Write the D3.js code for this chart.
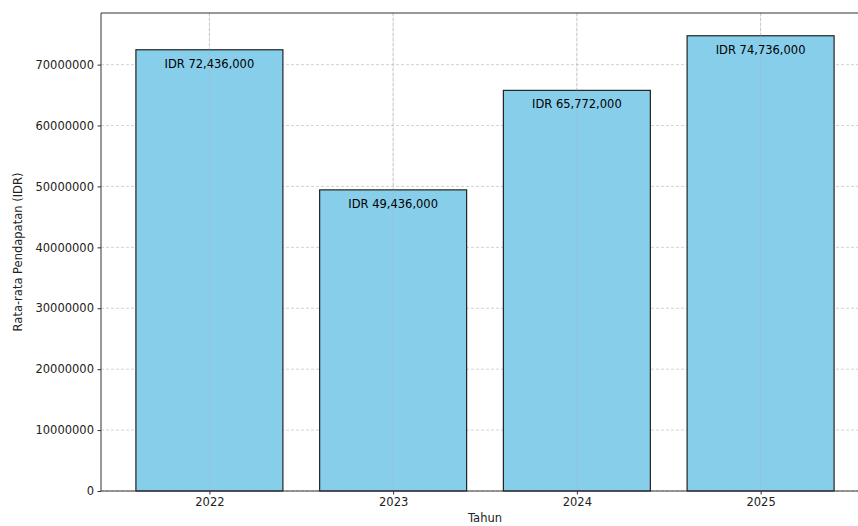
<!DOCTYPE html>
<html>
<head>
<meta charset="utf-8">
<script src="https://cdn.jsdelivr.net/npm/d3@7"></script>
<style>
  body { margin: 0; background: #fff; overflow: hidden; }
  svg { display: block; font-family: "DejaVu Sans", sans-serif; }
</style>
</head>
<body>
<div id="chart"></div>
<script>
// data
var years = ["2022", "2023", "2024", "2025"];
var pendapatan = [72436000, 49436000, 65772000, 74736000];
var yTicks = [0, 10000000, 20000000, 30000000, 40000000, 50000000, 60000000, 70000000];

(function() {
    var width = 858,
        height = 526,
        padLeft = 101,
        padTop = 13,
        padBottom = 491,
        padRight = 869; // axis runs past the picture's edge

    var svg = d3.select("#chart").append("svg")
        .attr("width", width)
        .attr("height", height);

    var x = d3.scaleLinear().domain([-0.59, 3.59]).range([padLeft, padRight]);
    var y = d3.scaleLinear().domain([0, d3.max(pendapatan) * 1.05]).range([padBottom, padTop]);

    // grid
    svg.append("g").selectAll("line.gy")
        .data(yTicks)
        .enter().append("line")
        .attr("class", "gy")
        .attr("x1", padLeft).attr("x2", padRight)
        .attr("y1", function(d) { return y(d); })
        .attr("y2", function(d) { return y(d); })
        .attr("stroke", "#b0b0b0")
        .attr("stroke-opacity", 0.7)
        .attr("stroke-dasharray", "3,2")
        .attr("stroke-width", 0.8);

    svg.append("g").selectAll("line.gx")
        .data(years)
        .enter().append("line")
        .attr("class", "gx")
        .attr("y1", padTop).attr("y2", padBottom)
        .attr("x1", function(d, i) { return x(i); })
        .attr("x2", function(d, i) { return x(i); })
        .attr("stroke", "#b0b0b0")
        .attr("stroke-opacity", 0.7)
        .attr("stroke-dasharray", "3,2")
        .attr("stroke-width", 0.8);

    // bars
    var bw = x(0.4) - x(0);
    svg.append("g").selectAll("rect")
        .data(pendapatan)
        .enter().append("rect")
        .attr("x", function(d, i) { return x(i) - bw; })
        .attr("width", bw * 2)
        .attr("y", function(d) { return y(d); })
        .attr("height", function(d) { return padBottom - y(d); })
        .attr("fill", "#87ceeb")
        .attr("stroke", "#222")
        .attr("stroke-width", 1.2);

    // grid shows through the bars faintly in the reference
    svg.append("g").selectAll("line.gx2")
        .data(years)
        .enter().append("line")
        .attr("y1", padTop).attr("y2", padBottom)
        .attr("x1", function(d, i) { return x(i); })
        .attr("x2", function(d, i) { return x(i); })
        .attr("stroke", "#b0b0b0")
        .attr("stroke-opacity", 0.35)
        .attr("stroke-width", 0.8);

    // value labels
    svg.append("g").selectAll("text")
        .data(pendapatan)
        .enter().append("text")
        .attr("x", function(d, i) { return x(i); })
        .attr("y", function(d) { return y(d) + 18; })
        .attr("text-anchor", "middle")
        .attr("font-size", "11.5px")
        .attr("fill", "#000")
        .text(function(d) { return "IDR " + d3.format(",")(d); });

    // axes
    var yAxis = d3.axisLeft(y).tickValues(yTicks).tickFormat(d3.format("d")).tickSize(3.5).tickPadding(3.5);
    var gy = svg.append("g").attr("transform", "translate(" + padLeft + ",0)").call(yAxis);

    var xAxis = d3.axisBottom(x).tickValues([0, 1, 2, 3])
        .tickFormat(function(d) { return years[d]; }).tickSize(3.5).tickPadding(3.5);
    var gx = svg.append("g").attr("transform", "translate(0," + padBottom + ")").call(xAxis);

    [gy, gx].forEach(function(g) {
        g.select(".domain").remove();
        g.selectAll("line").attr("stroke", "#333");
        g.selectAll("text").attr("font-size", "11.5px").attr("fill", "#222")
            .attr("font-family", "DejaVu Sans, sans-serif");
    });

    // spines
    svg.append("line").attr("x1", padLeft).attr("x2", padRight).attr("y1", padTop).attr("y2", padTop)
        .attr("stroke", "#333").attr("stroke-width", 1);
    svg.append("line").attr("x1", padLeft).attr("x2", padRight).attr("y1", padBottom).attr("y2", padBottom)
        .attr("stroke", "#333").attr("stroke-width", 1);
    svg.append("line").attr("x1", padLeft).attr("x2", padLeft).attr("y1", padTop).attr("y2", padBottom)
        .attr("stroke", "#333").attr("stroke-width", 1);

    // axis titles
    svg.append("text")
        .attr("x", 485)
        .attr("y", 522)
        .attr("text-anchor", "middle")
        .attr("font-size", "11.5px")
        .attr("fill", "#222")
        .text("Tahun");

    svg.append("text")
        .attr("transform", "translate(22," + (padTop + padBottom) / 2 + ") rotate(-90)")
        .attr("text-anchor", "middle")
        .attr("font-size", "11.5px")
        .attr("fill", "#222")
        .text("Rata-rata Pendapatan (IDR)");
})();
</script>
</body>
</html>
